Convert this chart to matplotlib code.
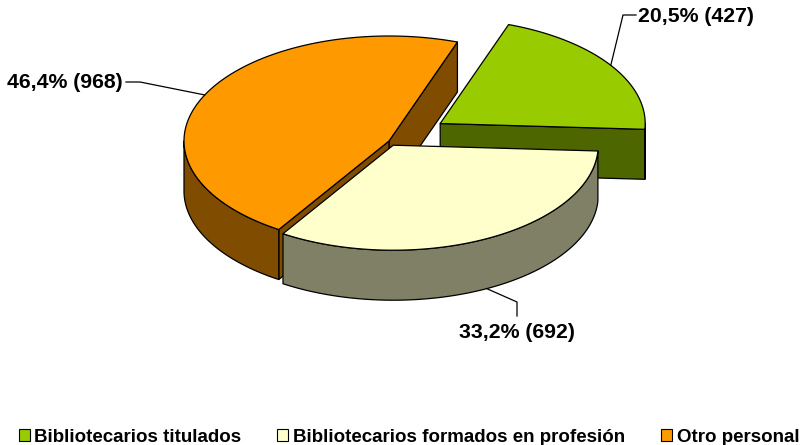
import numpy as np
import matplotlib
matplotlib.use("Agg")
import matplotlib.pyplot as plt
from matplotlib.patches import Polygon, Patch

plt.rcParams["font.family"] = ["Liberation Sans", "DejaVu Sans"]

# data
categories = ["Bibliotecarios titulados", "Bibliotecarios formados en profesión", "Otro personal"]
counts = np.array([427, 692, 968])
top_colors = ["#99CC00", "#FFFFCC", "#FF9900"]
side_colors = ["#4D6600", "#808066", "#804D00"]
explode = [0.30, 0.045, 0.0]

# 3d pie geometry, in pixels
START = 70.5          # edge of first slice, deg ccw from 3 o'clock, slices go clockwise
CX, CY = 389, 141
RX, RY = 205, 105
DEPTH = 50
FS_LEGEND = 13.5
FS_LABEL = 15.3

# label placement: text anchor + elbow points of the leader line
label_pos = [(638, 16, "left"), (517, 333, "center"), (123, 82, "right")]
elbows = [[(623, 15), (636, 15)], [(517, 302), (517, 316)], [(140, 82), (126, 82)]]

share = counts / counts.sum()
sweep = 360 * share
ends = START - np.cumsum(sweep)
starts = ends + sweep


def pt(cx, cy, t, dz=0):
    r = np.radians(t)
    return cx + RX * np.cos(r), cy - RY * np.sin(r) + dz


def arc(cx, cy, a, b, dz=0, n=200):
    t = np.linspace(a, b, n)
    x, y = pt(cx, cy, t, dz)
    return np.column_stack([x, y])


fig = plt.figure(figsize=(8.06, 4.45), dpi=100)
ax = fig.add_axes([0, 0, 1, 1])
ax.set_xlim(0, 806)
ax.set_ylim(445, 0)
ax.axis("off")

centers = []
for i in range(len(counts)):
    mid = (ends[i] + starts[i]) / 2
    r = np.radians(mid)
    centers.append((CX + explode[i] * RX * np.cos(r), CY - explode[i] * RY * np.sin(r)))

kw = dict(ec="black", lw=0.9, joinstyle="round")
for i in np.argsort([c[1] for c in centers]):
    cx, cy = centers[i]
    a, b = ends[i], starts[i]
    # flat cut faces facing the viewer
    for t, nrm in [(a, a - 90), (b, b + 90)]:
        if np.sin(np.radians(nrm)) < 0:
            ex, ey = pt(cx, cy, t)
            ax.add_patch(Polygon([(cx, cy), (ex, ey), (ex, ey + DEPTH), (cx, cy + DEPTH)],
                                 fc=side_colors[i], **kw))
    # outer wall, front half only
    for k in range(-2, 3):
        lo, hi = max(a, 180 + 360 * k), min(b, 360 + 360 * k)
        if hi > lo:
            wall = np.vstack([arc(cx, cy, lo, hi), arc(cx, cy, hi, lo, DEPTH)])
            ax.add_patch(Polygon(wall, fc=side_colors[i], **kw))
    top = np.vstack([[(cx, cy)], arc(cx, cy, a, b)])
    ax.add_patch(Polygon(top, fc=top_colors[i], **kw))

# labels with leader lines
for i in range(len(counts)):
    cx, cy = centers[i]
    mid = (ends[i] + starts[i]) / 2
    dz = DEPTH if np.sin(np.radians(mid)) < 0 else 0
    anchor = pt(cx, cy, mid, dz)
    xs, ys = zip(anchor, *elbows[i])
    ax.plot(xs, ys, color="black", lw=0.9)
    pct = f"{100 * share[i]:.1f}".replace(".", ",")
    tx, ty, ha = label_pos[i]
    ax.text(tx, ty, f"{pct}% ({counts[i]})", ha=ha, va="center",
            fontsize=FS_LABEL, fontweight="bold")

handles = [Patch(fc=c, ec="black", lw=0.8, label=l) for c, l in zip(top_colors, categories)]
fig.legend(handles=handles, ncol=3, loc="center", bbox_to_anchor=(409 / 806, 1 - 437 / 445),
           frameon=False, prop=dict(size=FS_LEGEND, weight="bold"), handlelength=0.6,
           handleheight=0.6, handletextpad=0.25, columnspacing=1.9, borderpad=0)

fig.savefig("out.png", dpi=100)
